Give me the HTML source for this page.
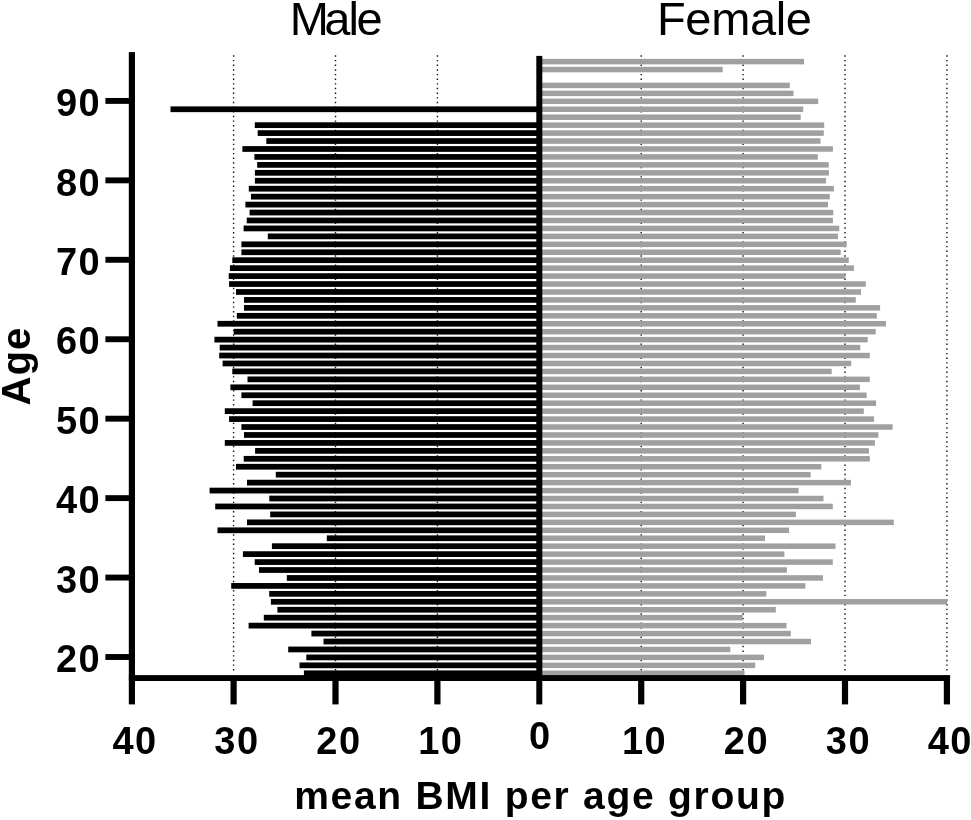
<!DOCTYPE html>
<html lang="en"><head><meta charset="utf-8"><title>mean BMI per age group</title>
<style>
html,body{margin:0;padding:0;background:#fff;}
body{width:971px;height:820px;overflow:hidden;}
svg{display:block;}
text{font-family:"Liberation Sans",sans-serif;fill:#000;}
.b{font-weight:bold;}
</style></head><body>
<svg width="971" height="820" viewBox="0 0 971 820">
<rect width="971" height="820" fill="#fff"/>

<g stroke="#111" stroke-width="1.4" stroke-dasharray="1.4 3.25" fill="none">
<line x1="233.6" y1="55.3" x2="233.6" y2="673.6"/>
<line x1="335.5" y1="55.3" x2="335.5" y2="673.6"/>
<line x1="437.4" y1="55.3" x2="437.4" y2="673.6"/>
<line x1="641.2" y1="55.3" x2="641.2" y2="673.6"/>
<line x1="743.1" y1="55.3" x2="743.1" y2="673.6"/>
<line x1="845.0" y1="55.3" x2="845.0" y2="673.6"/>
<line x1="946.9" y1="55.3" x2="946.9" y2="673.6"/>
</g>
<g fill="#000">
<rect x="303.9" y="670.41" width="235.4" height="5.75"/>
<rect x="299.5" y="662.47" width="239.8" height="5.75"/>
<rect x="306.3" y="654.52" width="233.0" height="5.75"/>
<rect x="288.2" y="646.58" width="251.1" height="5.75"/>
<rect x="323.5" y="638.64" width="215.8" height="5.75"/>
<rect x="311.4" y="630.69" width="227.9" height="5.75"/>
<rect x="248.6" y="622.75" width="290.7" height="5.75"/>
<rect x="263.8" y="614.80" width="275.5" height="5.75"/>
<rect x="277.4" y="606.86" width="261.9" height="5.75"/>
<rect x="270.9" y="598.92" width="268.4" height="5.75"/>
<rect x="269.2" y="590.97" width="270.1" height="5.75"/>
<rect x="231.2" y="583.03" width="308.1" height="5.75"/>
<rect x="286.8" y="575.09" width="252.5" height="5.75"/>
<rect x="259.0" y="567.14" width="280.3" height="5.75"/>
<rect x="254.7" y="559.20" width="284.6" height="5.75"/>
<rect x="242.9" y="551.25" width="296.4" height="5.75"/>
<rect x="271.9" y="543.31" width="267.4" height="5.75"/>
<rect x="326.8" y="535.37" width="212.5" height="5.75"/>
<rect x="217.5" y="527.42" width="321.8" height="5.75"/>
<rect x="247.0" y="519.48" width="292.3" height="5.75"/>
<rect x="270.2" y="511.53" width="269.1" height="5.75"/>
<rect x="215.2" y="503.59" width="324.1" height="5.75"/>
<rect x="269.3" y="495.64" width="270.0" height="5.75"/>
<rect x="209.6" y="487.70" width="329.7" height="5.75"/>
<rect x="247.0" y="479.76" width="292.3" height="5.75"/>
<rect x="275.8" y="471.81" width="263.5" height="5.75"/>
<rect x="236.0" y="463.87" width="303.3" height="5.75"/>
<rect x="243.7" y="455.92" width="295.6" height="5.75"/>
<rect x="255.1" y="447.98" width="284.2" height="5.75"/>
<rect x="224.8" y="440.04" width="314.5" height="5.75"/>
<rect x="244.0" y="432.09" width="295.3" height="5.75"/>
<rect x="241.4" y="424.15" width="297.9" height="5.75"/>
<rect x="229.1" y="416.20" width="310.2" height="5.75"/>
<rect x="224.8" y="408.26" width="314.5" height="5.75"/>
<rect x="252.6" y="400.32" width="286.7" height="5.75"/>
<rect x="241.4" y="392.37" width="297.9" height="5.75"/>
<rect x="230.4" y="384.43" width="308.9" height="5.75"/>
<rect x="247.5" y="376.48" width="291.8" height="5.75"/>
<rect x="232.3" y="368.54" width="307.0" height="5.75"/>
<rect x="222.6" y="360.60" width="316.7" height="5.75"/>
<rect x="219.2" y="352.65" width="320.1" height="5.75"/>
<rect x="219.7" y="344.71" width="319.6" height="5.75"/>
<rect x="214.4" y="336.76" width="324.9" height="5.75"/>
<rect x="233.7" y="328.82" width="305.6" height="5.75"/>
<rect x="217.5" y="320.88" width="321.8" height="5.75"/>
<rect x="236.8" y="312.93" width="302.5" height="5.75"/>
<rect x="244.0" y="304.99" width="295.3" height="5.75"/>
<rect x="244.0" y="297.04" width="295.3" height="5.75"/>
<rect x="236.0" y="289.10" width="303.3" height="5.75"/>
<rect x="229.1" y="281.16" width="310.2" height="5.75"/>
<rect x="228.7" y="273.21" width="310.6" height="5.75"/>
<rect x="229.9" y="265.27" width="309.4" height="5.75"/>
<rect x="232.3" y="257.32" width="307.0" height="5.75"/>
<rect x="241.4" y="249.38" width="297.9" height="5.75"/>
<rect x="241.4" y="241.44" width="297.9" height="5.75"/>
<rect x="267.8" y="233.49" width="271.5" height="5.75"/>
<rect x="243.6" y="225.55" width="295.7" height="5.75"/>
<rect x="246.7" y="217.60" width="292.6" height="5.75"/>
<rect x="249.6" y="209.66" width="289.7" height="5.75"/>
<rect x="245.4" y="201.72" width="293.9" height="5.75"/>
<rect x="251.0" y="193.77" width="288.3" height="5.75"/>
<rect x="248.8" y="185.83" width="290.5" height="5.75"/>
<rect x="254.9" y="177.88" width="284.4" height="5.75"/>
<rect x="254.9" y="169.94" width="284.4" height="5.75"/>
<rect x="257.2" y="162.00" width="282.1" height="5.75"/>
<rect x="254.4" y="154.05" width="284.9" height="5.75"/>
<rect x="242.4" y="146.11" width="296.9" height="5.75"/>
<rect x="266.3" y="138.16" width="273.0" height="5.75"/>
<rect x="257.7" y="130.22" width="281.6" height="5.75"/>
<rect x="254.8" y="122.28" width="284.5" height="5.75"/>
<rect x="170.5" y="106.39" width="368.8" height="5.75"/>
</g>
<g fill="#a0a0a0">
<rect x="539.3" y="670.54" width="205.2" height="5.5"/>
<rect x="539.3" y="662.59" width="215.9" height="5.5"/>
<rect x="539.3" y="654.65" width="224.6" height="5.5"/>
<rect x="539.3" y="646.71" width="191.0" height="5.5"/>
<rect x="539.3" y="638.76" width="271.7" height="5.5"/>
<rect x="539.3" y="630.82" width="251.5" height="5.5"/>
<rect x="539.3" y="622.87" width="247.2" height="5.5"/>
<rect x="539.3" y="614.93" width="203.5" height="5.5"/>
<rect x="539.3" y="606.99" width="236.5" height="5.5"/>
<rect x="539.3" y="599.04" width="407.8" height="5.5"/>
<rect x="539.3" y="591.10" width="227.0" height="5.5"/>
<rect x="539.3" y="583.15" width="266.1" height="5.5"/>
<rect x="539.3" y="575.21" width="283.6" height="5.5"/>
<rect x="539.3" y="567.27" width="247.6" height="5.5"/>
<rect x="539.3" y="559.32" width="293.5" height="5.5"/>
<rect x="539.3" y="551.38" width="245.1" height="5.5"/>
<rect x="539.3" y="543.43" width="296.2" height="5.5"/>
<rect x="539.3" y="535.49" width="225.7" height="5.5"/>
<rect x="539.3" y="527.55" width="249.8" height="5.5"/>
<rect x="539.3" y="519.60" width="354.5" height="5.5"/>
<rect x="539.3" y="511.66" width="256.6" height="5.5"/>
<rect x="539.3" y="503.71" width="293.5" height="5.5"/>
<rect x="539.3" y="495.77" width="284.2" height="5.5"/>
<rect x="539.3" y="487.83" width="259.3" height="5.5"/>
<rect x="539.3" y="479.88" width="311.6" height="5.5"/>
<rect x="539.3" y="471.94" width="271.3" height="5.5"/>
<rect x="539.3" y="463.99" width="282.0" height="5.5"/>
<rect x="539.3" y="456.05" width="330.5" height="5.5"/>
<rect x="539.3" y="448.11" width="329.6" height="5.5"/>
<rect x="539.3" y="440.16" width="335.6" height="5.5"/>
<rect x="539.3" y="432.22" width="339.1" height="5.5"/>
<rect x="539.3" y="424.27" width="353.3" height="5.5"/>
<rect x="539.3" y="416.33" width="334.8" height="5.5"/>
<rect x="539.3" y="408.39" width="324.5" height="5.5"/>
<rect x="539.3" y="400.44" width="336.8" height="5.5"/>
<rect x="539.3" y="392.50" width="327.4" height="5.5"/>
<rect x="539.3" y="384.55" width="320.6" height="5.5"/>
<rect x="539.3" y="376.61" width="330.5" height="5.5"/>
<rect x="539.3" y="368.67" width="292.4" height="5.5"/>
<rect x="539.3" y="360.72" width="311.9" height="5.5"/>
<rect x="539.3" y="352.78" width="330.5" height="5.5"/>
<rect x="539.3" y="344.83" width="321.0" height="5.5"/>
<rect x="539.3" y="336.89" width="328.4" height="5.5"/>
<rect x="539.3" y="328.95" width="336.4" height="5.5"/>
<rect x="539.3" y="321.00" width="346.7" height="5.5"/>
<rect x="539.3" y="313.06" width="337.5" height="5.5"/>
<rect x="539.3" y="305.11" width="340.8" height="5.5"/>
<rect x="539.3" y="297.17" width="316.5" height="5.5"/>
<rect x="539.3" y="289.23" width="321.8" height="5.5"/>
<rect x="539.3" y="281.28" width="326.5" height="5.5"/>
<rect x="539.3" y="273.34" width="306.2" height="5.5"/>
<rect x="539.3" y="265.39" width="314.6" height="5.5"/>
<rect x="539.3" y="257.45" width="309.5" height="5.5"/>
<rect x="539.3" y="249.51" width="301.4" height="5.5"/>
<rect x="539.3" y="241.56" width="307.4" height="5.5"/>
<rect x="539.3" y="233.62" width="298.7" height="5.5"/>
<rect x="539.3" y="225.67" width="300.0" height="5.5"/>
<rect x="539.3" y="217.73" width="293.6" height="5.5"/>
<rect x="539.3" y="209.79" width="294.0" height="5.5"/>
<rect x="539.3" y="201.84" width="288.7" height="5.5"/>
<rect x="539.3" y="193.90" width="290.5" height="5.5"/>
<rect x="539.3" y="185.95" width="294.6" height="5.5"/>
<rect x="539.3" y="178.01" width="286.8" height="5.5"/>
<rect x="539.3" y="170.07" width="289.6" height="5.5"/>
<rect x="539.3" y="162.12" width="289.4" height="5.5"/>
<rect x="539.3" y="154.18" width="278.5" height="5.5"/>
<rect x="539.3" y="146.23" width="293.6" height="5.5"/>
<rect x="539.3" y="138.29" width="281.2" height="5.5"/>
<rect x="539.3" y="130.35" width="284.5" height="5.5"/>
<rect x="539.3" y="122.40" width="284.9" height="5.5"/>
<rect x="539.3" y="114.46" width="261.4" height="5.5"/>
<rect x="539.3" y="106.51" width="263.9" height="5.5"/>
<rect x="539.3" y="98.57" width="278.9" height="5.5"/>
<rect x="539.3" y="90.63" width="254.2" height="5.5"/>
<rect x="539.3" y="82.68" width="250.5" height="5.5"/>
<rect x="539.3" y="66.79" width="183.4" height="5.5"/>
<rect x="539.3" y="58.85" width="264.7" height="5.5"/>
</g>
<g fill="#000">
<rect x="128.8" y="52.1" width="6.2" height="652.3"/>
<rect x="128.9" y="675.1" width="821.2" height="5.9"/>
<rect x="536.3" y="55.9" width="6" height="648.5"/>
<rect x="230.5" y="678" width="6.2" height="26.4"/>
<rect x="332.4" y="678" width="6.2" height="26.4"/>
<rect x="434.3" y="678" width="6.2" height="26.4"/>
<rect x="638.1" y="678" width="6.2" height="26.4"/>
<rect x="740.0" y="678" width="6.2" height="26.4"/>
<rect x="841.9" y="678" width="6.2" height="26.4"/>
<rect x="943.8" y="678" width="6.2" height="26.4"/>
<rect x="105.4" y="654.05" width="25" height="5.9"/>
<rect x="105.4" y="574.61" width="25" height="5.9"/>
<rect x="105.4" y="495.17" width="25" height="5.9"/>
<rect x="105.4" y="415.73" width="25" height="5.9"/>
<rect x="105.4" y="336.29" width="25" height="5.9"/>
<rect x="105.4" y="256.85" width="25" height="5.9"/>
<rect x="105.4" y="177.41" width="25" height="5.9"/>
<rect x="105.4" y="97.97" width="25" height="5.9"/>
</g>
<g class="b" font-size="38" letter-spacing="1.5" text-anchor="middle">
<text x="135.1" y="753.5">40</text>
<text x="237.0" y="753.5">30</text>
<text x="338.9" y="753.5">20</text>
<text x="440.8" y="753.5">10</text>
<text x="644.6" y="753.5">10</text>
<text x="746.5" y="753.5">20</text>
<text x="848.4" y="753.5">30</text>
<text x="950.3" y="753.5">40</text>
<text x="540.2" y="748.5">0</text>
</g>
<g class="b" font-size="38" letter-spacing="1.5" text-anchor="end">
<text x="101.2" y="672.2">20</text>
<text x="101.2" y="592.8">30</text>
<text x="101.2" y="513.3">40</text>
<text x="101.2" y="433.9">50</text>
<text x="101.2" y="354.4">60</text>
<text x="101.2" y="275.0">70</text>
<text x="101.2" y="195.6">80</text>
<text x="101.2" y="116.1">90</text>
</g>
<text class="b" font-size="39" letter-spacing="1.72" text-anchor="middle" x="540.6" y="808.7">mean BMI per age group</text>
<text class="b" font-size="40.3" letter-spacing="0.9" text-anchor="middle" transform="translate(29.6,366) rotate(-90)">Age</text>
<text font-size="47" x="289.7 324.2 348.5 356.6" y="35">Male</text>
<text font-size="47" letter-spacing="-0.35" text-anchor="start" x="657" y="35">Female</text>
</svg>
</body></html>
